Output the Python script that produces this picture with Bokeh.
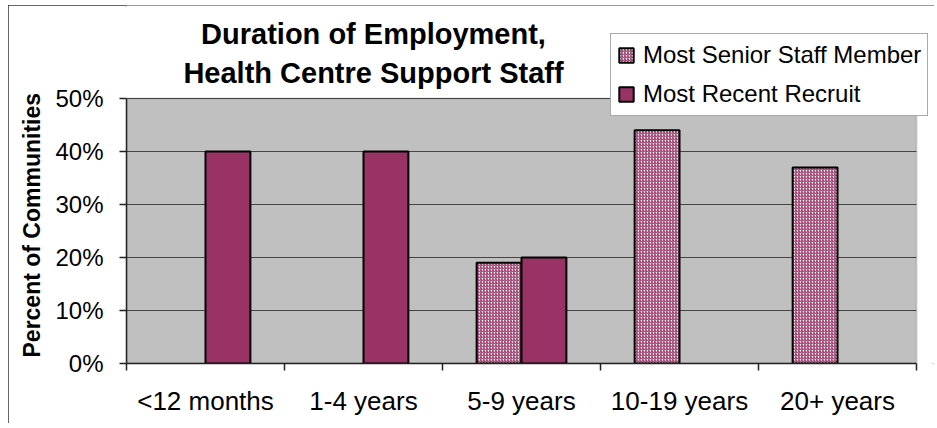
from bokeh.plotting import figure
from bokeh.models import (ColumnDataSource, Range1d, FixedTicker, NumeralTickFormatter,
                          Legend, LegendItem, Label, BoxAnnotation, Title)
from bokeh.transform import dodge
from bokeh.embed import file_html
from bokeh.resources import INLINE
import numpy as np

categories = ["<12 months", "1-4 years", "5-9 years", "10-19 years", "20+ years"]
senior = [0.0, 0.0, 0.19, 0.44, 0.37]
recruit = [0.40, 0.40, 0.20, 0.0, 0.0]
y_ticks = [0.0, 0.1, 0.2, 0.3, 0.4, 0.5]
series_names = ["Most Senior Staff Member", "Most Recent Recruit"]
title_lines = ["Duration of Employment,", "Health Centre Support Staff"]
y_label = "Percent of Communities"

FONT = "Liberation Sans"
PINK = "#993366"
GRAY = "#C0C0C0"

# layout (pixels)
FIG_W, FIG_H = 926, 418
BORDER_L, BORDER_B = 117, 60
PLOT_W, PLOT_H = 791, 265          # size of the grey plot area
FRAME_W = FIG_W - BORDER_L
FRAME_H = FIG_H - BORDER_B

N = len(categories)
Y_MAX = y_ticks[-1]
x_end = N * FRAME_W / PLOT_W
y_end = Y_MAX * FRAME_H / PLOT_H

centers = np.arange(N) + 0.5
bounds = [float(b) for b in np.arange(N + 1)]

def src(vals):
    idx = [i for i, v in enumerate(vals) if v > 0]
    return ColumnDataSource(dict(x=[centers[i] for i in idx], top=[vals[i] for i in idx]))

p = figure(width=FIG_W, height=FIG_H, output_backend="svg", toolbar_location=None,
           x_range=Range1d(0, x_end), y_range=Range1d(0, y_end),
           min_border_left=BORDER_L, min_border_right=0, min_border_top=0,
           min_border_bottom=BORDER_B)

p.background_fill_color = "white"
p.border_fill_color = "white"
p.outline_line_color = None
p.styles = {"margin-left": "8px", "margin-top": "5px",
            "outline": "2px solid #333333", "outline-offset": "-2px"}

# grey plot area
p.add_layout(BoxAnnotation(left=0, right=N, bottom=0, top=Y_MAX, fill_color=GRAY,
                           fill_alpha=1.0, line_color="#808080", line_width=2,
                           level="underlay"))

# horizontal gridlines
p.segment(x0=[0] * len(y_ticks), x1=[N] * len(y_ticks), y0=y_ticks, y1=y_ticks,
          line_color="#454545", line_width=1.2)

bw = 0.284
r1 = p.vbar(x=dodge("x", -bw / 2, range=p.x_range), top="top", width=bw, source=src(senior),
            fill_color="white", hatch_pattern="/", hatch_color=PINK, hatch_scale=3,
            hatch_weight=1.1, line_color="black", line_width=2)
r2 = p.vbar(x=dodge("x", bw / 2, range=p.x_range), top="top", width=bw, source=src(recruit),
            fill_color=PINK, line_color="black", line_width=2)

p.xgrid.visible = False
p.ygrid.visible = False

# x axis
p.xaxis.bounds = (0, N)
p.xaxis.ticker = FixedTicker(ticks=list(centers), minor_ticks=bounds)
p.xaxis.major_label_overrides = {float(c): n for c, n in zip(centers, categories)}
p.xaxis.major_tick_out = 0
p.xaxis.major_tick_in = 0
p.xaxis.minor_tick_out = 7
p.xaxis.minor_tick_in = 0
p.xaxis.major_label_standoff = 15
p.xaxis.major_label_text_font = FONT
p.xaxis.major_label_text_font_size = "26px"
p.xaxis.major_label_text_color = "black"
p.xaxis.axis_line_color = "#222222"
p.xaxis.axis_line_width = 1.5
p.xaxis.minor_tick_line_color = "#222222"
p.xaxis.minor_tick_line_width = 1.5

# y axis
p.yaxis.bounds = (0, Y_MAX)
p.yaxis.ticker = FixedTicker(ticks=y_ticks)
p.yaxis.formatter = NumeralTickFormatter(format="0%")
p.yaxis.major_tick_out = 7
p.yaxis.major_tick_in = 0
p.yaxis.minor_tick_out = 0
p.yaxis.minor_tick_in = 0
p.yaxis.major_label_standoff = 16
p.yaxis.major_label_text_font = FONT
p.yaxis.major_label_text_font_size = "24px"
p.yaxis.major_label_text_color = "black"
p.yaxis.axis_line_color = "#222222"
p.yaxis.axis_line_width = 1.5
p.yaxis.major_tick_line_color = "#222222"
p.yaxis.major_tick_line_width = 1.5

# y axis title, placed in the left panel beside the axis
p.add_layout(Title(text=y_label, align="left", offset=6, text_font=FONT,
                   text_font_size="23px", text_font_style="bold", text_color="black",
                   standoff=16), "left")

# chart title
for line, yb in zip(title_lines, [330, 291]):
    p.add_layout(Label(x=247, y=yb, x_units="screen", y_units="screen", text=line,
                       text_font=FONT, text_font_size="29px", text_font_style="bold",
                       text_align="center", text_baseline="alphabetic", text_color="black"))

legend = Legend(items=[LegendItem(label=series_names[0], renderers=[r1]),
                       LegendItem(label=series_names[1], renderers=[r2])],
                location=(484, 247), orientation="vertical",
                label_text_font=FONT, label_text_font_size="24px", label_text_color="black",
                glyph_width=18, glyph_height=18, label_height=30, label_standoff=8,
                padding=6, spacing=9, margin=0,
                border_line_color="#555555", border_line_width=1.5,
                background_fill_color="white", background_fill_alpha=1.0)
p.add_layout(legend, "center")

open("out.html", "w").write(file_html(p, INLINE))
